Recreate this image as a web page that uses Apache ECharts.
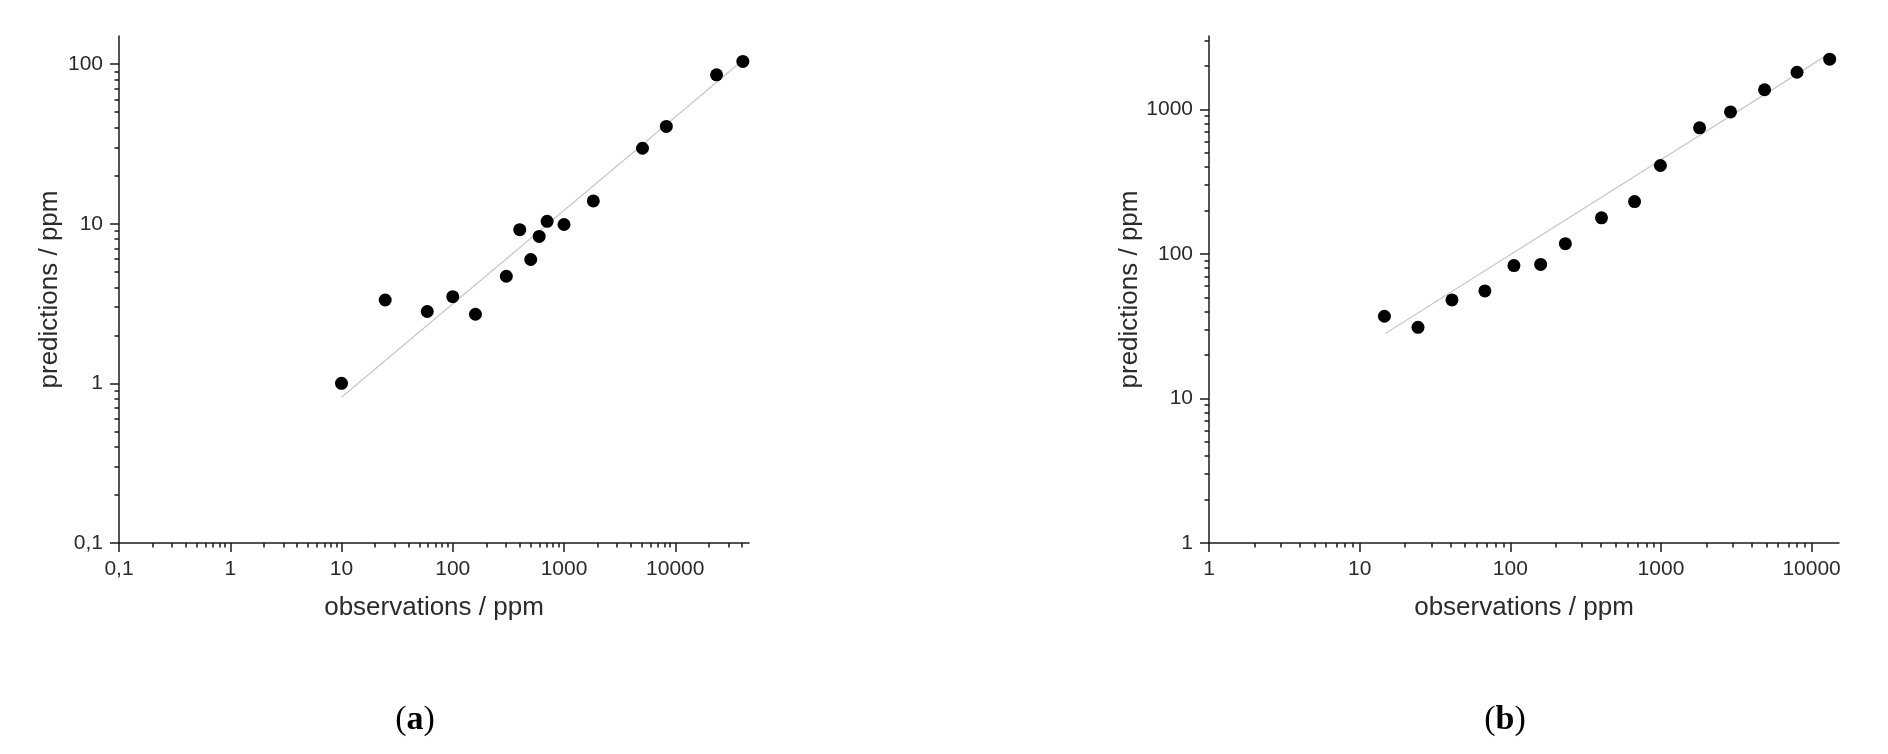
<!DOCTYPE html>
<html>
<head>
<meta charset="utf-8">
<title>predictions vs observations</title>
<script src="https://cdn.jsdelivr.net/npm/echarts@6/dist/echarts.min.js"></script>
<style>
	html, body { margin: 0; padding: 0; background: #fff; }
	#chart { width: 1888px; height: 754px; }
</style>
</head>
<body>
<div id="chart"></div>
<script>
	// (a) observations / predictions, ppm
	var obsA = [10, 24.7, 59, 100, 160, 303, 400, 502, 598, 705, 1000, 1834, 5075, 8310, 23500, 40500];
	var predA = [1.0, 3.33, 2.82, 3.49, 2.71, 4.69, 9.18, 5.97, 8.33, 10.35, 9.89, 13.9, 29.7, 40.7, 85.7, 104];
	var fitObsA = [10, 40000];
	var fitPredA = [0.82, 105];

	// (b)
	var obsB = [14.6, 24.4, 41, 67.8, 105.7, 159, 232, 403, 668, 992, 1805, 2896, 4873, 8000, 13180];
	var predB = [37.1, 31.1, 48.1, 55.6, 83.2, 84.8, 117.9, 178, 230.6, 410, 748, 963, 1372, 1813, 2234];
	var fitObsB = [14.8, 13200];
	var fitPredB = [28.2, 2450];

	// tick values (decades)
	var xTicksA = [0.1, 1, 10, 100, 1000, 10000];
	var yTicksA = [0.1, 1, 10, 100];
	var xTicksB = [1, 10, 100, 1000, 10000];
	var yTicksB = [1, 10, 100, 1000];

	function pairs(xs, ys) {
		var out = [];
		for (var i = 0; i < xs.length; i++) {
			out.push([xs[i], ys[i]]);
		}
		return out;
	}

	// 2..9 inside each decade, up to max
	function minors(decades, max) {
		var out = [];
		for (var i = 0; i < decades.length; i++) {
			for (var k = 2; k <= 9; k++) {
				var v = +(decades[i] * k).toPrecision(6);
				if (v < max) out.push(v);
			}
		}
		return out;
	}

	function fmt(v) {
		return String(v).replace('.', ',');
	}

	var labelFont = {fontFamily: 'Liberation Sans', fontSize: 21, color: '#2b2b2b'};
	var nameFont = {fontFamily: 'Liberation Sans', fontSize: 26, color: '#2b2b2b'};
	var lineStyle = {color: '#1a1a1a', width: 1.5};

	function majorAxis(grid, ticks, min, max, name, isY) {
		return {
			type: 'log',
			gridIndex: grid,
			position: isY ? 'left' : 'bottom',
			min: min,
			max: max,
			name: name,
			nameLocation: 'middle',
			nameGap: isY ? 56 : 52,
			nameTextStyle: nameFont,
			axisLine: {show: true, onZero: false, lineStyle: lineStyle},
			axisTick: {show: true, inside: false, length: 9, customValues: ticks, lineStyle: lineStyle},
			axisLabel: Object.assign({margin: 16, customValues: ticks, formatter: fmt}, labelFont),
			splitLine: {show: false},
			minorTick: {show: false}
		};
	}

	// second axis on the same side, only short ticks
	function minorAxis(grid, ticks, min, max, isY) {
		return {
			type: 'log',
			gridIndex: grid,
			position: isY ? 'left' : 'bottom',
			min: min,
			max: max,
			axisLine: {show: false, onZero: false},
			axisTick: {show: true, inside: false, length: 4.5, customValues: minors(ticks, max), lineStyle: lineStyle},
			axisLabel: {show: false},
			splitLine: {show: false}
		};
	}

	var myChart = echarts.init(document.getElementById('chart'));

	var richLabel = {
		p: {fontFamily: 'Liberation Serif', fontSize: 34, fill: '#000'},
		l: {fontFamily: 'Liberation Serif', fontSize: 34, fontWeight: 'bold', fill: '#000'}
	};

	myChart.setOption({
		backgroundColor: '#fff',
		animation: false,
		grid: [
			{left: 119, top: 36, width: 630, height: 507},
			{left: 1209, top: 36, width: 630, height: 507}
		],
		xAxis: [
			majorAxis(0, xTicksA, 0.1, 46000, 'observations / ppm', false),
			majorAxis(1, xTicksB, 1, 15200, 'observations / ppm', false),
			minorAxis(0, xTicksA, 0.1, 46000, false),
			minorAxis(1, xTicksB, 1, 15200, false)
		],
		yAxis: [
			majorAxis(0, yTicksA, 0.1, 150, 'predictions / ppm', true),
			majorAxis(1, yTicksB, 1, 3230, 'predictions / ppm', true),
			minorAxis(0, yTicksA, 0.1, 150, true),
			minorAxis(1, yTicksB, 1, 3230, true)
		],
		series: [
			{
				name: 'fit a',
				type: 'line',
				xAxisIndex: 0,
				yAxisIndex: 0,
				data: pairs(fitObsA, fitPredA),
				symbol: 'none',
				lineStyle: {color: '#c9c9c9', width: 1.3},
				z: 1
			},
			{
				name: 'a',
				type: 'scatter',
				xAxisIndex: 0,
				yAxisIndex: 0,
				data: pairs(obsA, predA),
				symbol: 'circle',
				symbolSize: 13,
				itemStyle: {color: '#000', opacity: 1},
				z: 3
			},
			{
				name: 'fit b',
				type: 'line',
				xAxisIndex: 1,
				yAxisIndex: 1,
				data: pairs(fitObsB, fitPredB),
				symbol: 'none',
				lineStyle: {color: '#c9c9c9', width: 1.3},
				z: 1
			},
			{
				name: 'b',
				type: 'scatter',
				xAxisIndex: 1,
				yAxisIndex: 1,
				data: pairs(obsB, predB),
				symbol: 'circle',
				symbolSize: 13,
				itemStyle: {color: '#000', opacity: 1},
				z: 3
			}
		],
		graphic: [
			{
				type: 'text',
				x: 415,
				y: 720,
				style: {text: '{p|(}{l|a}{p|)}', align: 'center', verticalAlign: 'middle', rich: richLabel}
			},
			{
				type: 'text',
				x: 1505,
				y: 720,
				style: {text: '{p|(}{l|b}{p|)}', align: 'center', verticalAlign: 'middle', rich: richLabel}
			}
		]
	});
</script>
</body>
</html>
